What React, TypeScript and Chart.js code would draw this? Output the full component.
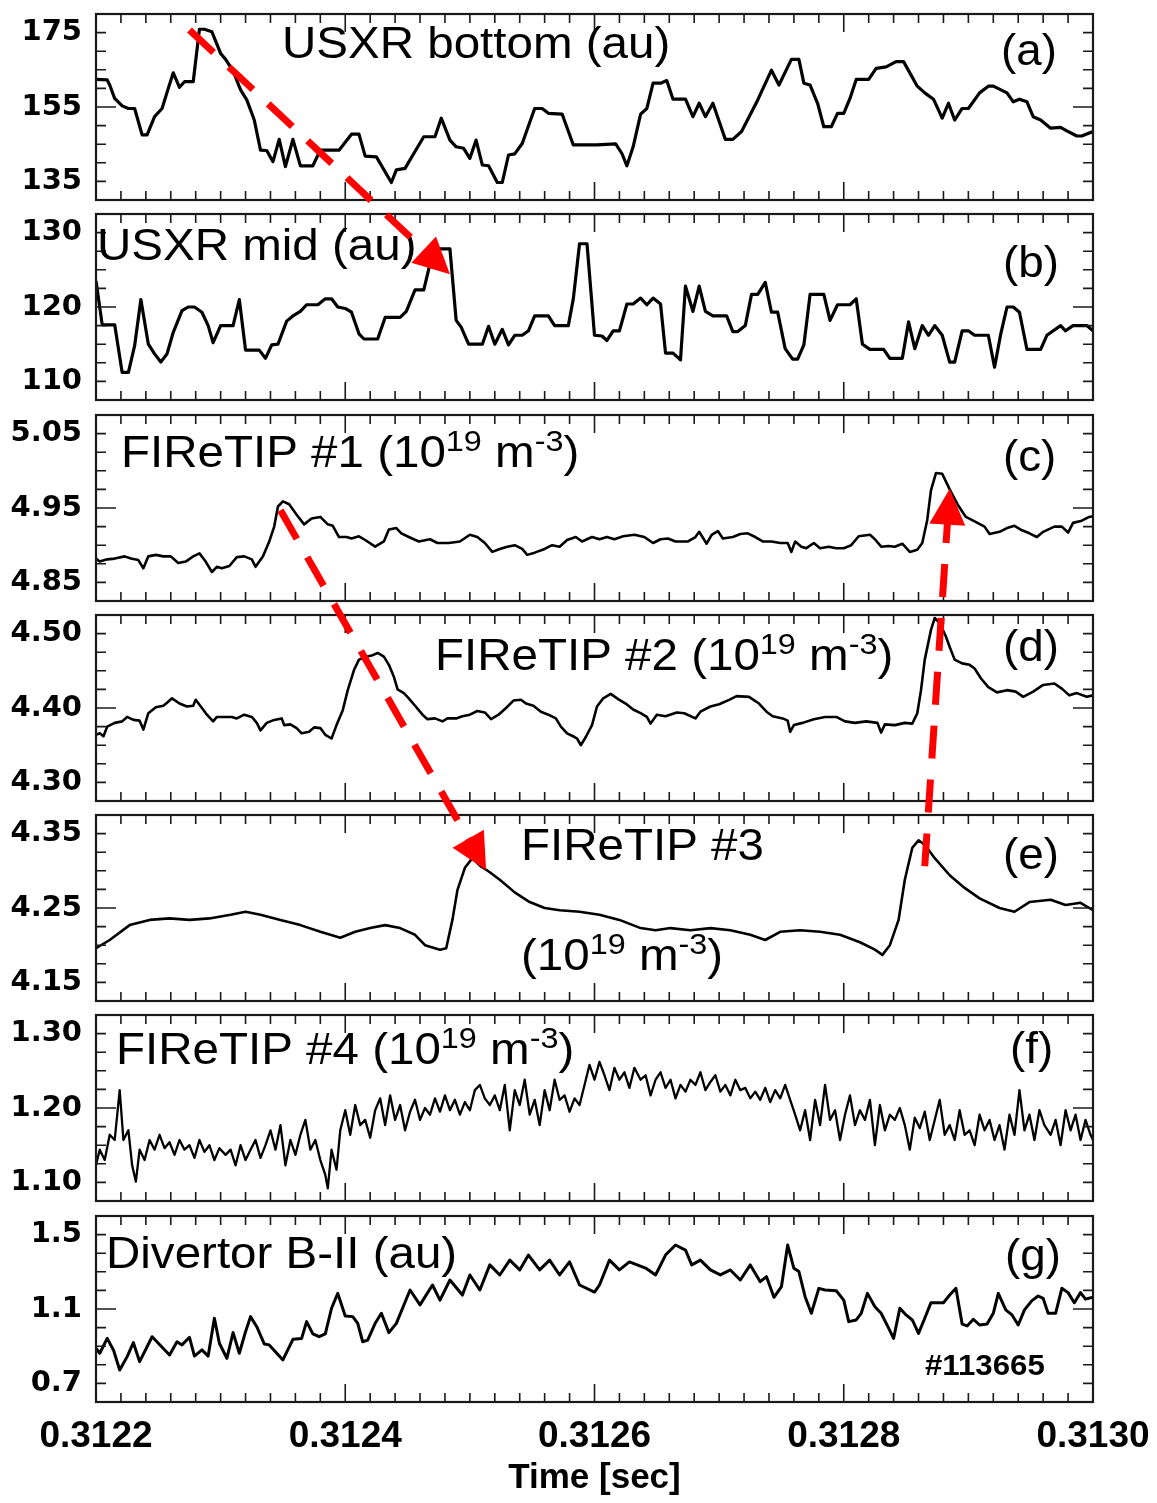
import React, { useEffect, useRef } from 'react';
import { Chart, registerables } from 'chart.js';

Chart.register(...registerables);

// ---------------- data: time in microseconds after 0.3122 s ----------------
const USXR_BOTTOM: [number, number][] = [
  [0,162.4],[9,162.3],[11,160.9],[15,157.3],[21,155.3],[26,154.6],[31,154.6],[37,147.5],[41,147.5],[47,152.4],
  [53,154.6],[58,160.0],[62,164.2],[67,160.3],[71,161.8],[78,161.8],[83,175.9],[87,175.9],[93,175.2],[100,169.4],
  [104,167.8],[110,164.7],[116,159.6],[121,156.9],[127,151.5],[132,143.4],[137,143.3],[142,140.3],[147,146.3],[152,139.0],
  [158,146.3],[164,139.2],[174,139.2],[180,143.4],[195,143.4],[205,147.7],[211,147.7],[216,141.8],[225,141.6],[237,134.7],
  [241,138.1],[248,138.5],[255,142.5],[263,147.0],[272,147.0],[277,152.0],[284,146.1],[289,144.3],[295,143.9],[300,141.2],
  [305,146.1],[310,139.4],[315,139.2],[322,134.7],[326,134.7],[331,142.1],[336,142.4],[342,145.2],[352,154.6],[358,154.6],
  [363,153.3],[374,153.1],[383,144.8],[402,144.8],[417,145.1],[422,142.5],[426,139.2],[431,144.3],[437,153.1],[442,154.6],
  [447,161.4],[453,161.4],[458,162.1],[463,157.1],[473,157.1],[479,152.4],[484,156.0],[489,152.4],[495,156.0],[505,146.3],
  [511,146.3],[518,148.4],[531,156.9],[542,164.9],[548,160.9],[558,167.8],[564,167.8],[568,161.4],[573,160.9],[579,156.0],
  [584,149.7],[590,149.7],[595,153.3],[600,153.3],[605,157.3],[610,162.4],[620,162.4],[626,165.4],[634,165.8],[642,167.2],
  [648,167.2],[659,160.6],[665,158.8],[672,157.1],[679,152.0],[684,156.0],[689,151.5],[695,154.6],[700,154.6],[709,158.8],
  [716,160.6],[720,160.6],[731,158.8],[736,156.4],[741,157.1],[747,156.4],[752,152.4],[758,151.5],[766,149.3],[774,149.5],
  [779,148.6],[787,147.2],[791,147.2],[800,148.4],
];

const USXR_MID: [number, number][] = [
  [0,123.5],[5,117.6],[15,117.6],[21,111.2],[26,111.2],[31,114.8],[36,121.0],[42,115.0],[47,113.7],[52,112.6],
  [57,113.7],[62,116.6],[69,119.5],[74,120.0],[79,120.0],[85,119.3],[90,117.5],[94,115.2],[100,117.5],[110,117.5],
  [115,121.0],[120,114.2],[131,114.2],[136,113.1],[141,114.9],[146,115.0],[153,118.1],[158,118.8],[164,119.4],[169,120.3],
  [178,120.3],[184,121.1],[189,121.1],[194,120.0],[200,119.8],[205,119.3],[211,116.4],[215,115.7],[226,115.7],[232,118.6],
  [244,118.6],[249,119.4],[256,122.3],[263,122.3],[267,125.1],[271,127.8],[284,127.8],[289,118.2],[293,117.3],[299,115.0],
  [310,115.0],[315,117.4],[320,115.0],[326,117.0],[331,114.9],[336,116.2],[342,116.2],[347,116.8],[352,118.8],[363,118.8],
  [368,117.5],[379,117.5],[383,121.1],[388,128.5],[394,128.5],[400,116.2],[406,116.1],[410,115.5],[415,116.8],[420,116.8],
  [426,120.4],[431,120.4],[437,121.2],[442,120.3],[447,121.2],[453,120.4],[457,113.8],[463,113.8],[469,112.9],[473,122.8],
  [479,119.4],[484,122.8],[489,119.4],[495,118.8],[506,118.8],[511,116.7],[515,116.7],[521,117.5],[526,121.7],[531,121.7],
  [537,123.3],[542,119.3],[547,119.3],[553,114.4],[559,113.0],[563,113.0],[568,114.9],[573,121.7],[584,121.7],[589,118.2],
  [595,120.3],[605,120.3],[610,121.1],[615,115.0],[621,114.3],[632,114.3],[637,113.1],[647,113.1],[652,118.0],[657,114.4],
  [663,117.5],[668,116.2],[673,117.5],[679,116.2],[685,112.6],[689,112.6],[695,116.8],[700,116.8],[705,116.2],[716,116.2],
  [721,111.9],[726,116.4],[731,120.0],[736,120.0],[741,119.3],[747,114.3],[758,114.3],[763,116.2],[774,117.5],[778,116.8],
  [784,117.5],[795,117.5],[800,116.8],
];

const FIRETIP_1: [number, number][] = [
  [0,4.882],[3,4.878],[9,4.881],[15,4.882],[23,4.885],[28,4.882],[34,4.880],[38,4.869],[42,4.885],[48,4.887],
  [54,4.885],[60,4.885],[66,4.876],[72,4.878],[78,4.885],[83,4.889],[88,4.878],[93,4.864],[97,4.871],[101,4.869],
  [107,4.872],[113,4.884],[119,4.885],[125,4.881],[128,4.871],[134,4.885],[139,4.905],[143,4.925],[146,4.952],[150,4.959],
  [155,4.955],[161,4.941],[167,4.928],[173,4.936],[180,4.938],[186,4.928],[190,4.926],[195,4.911],[201,4.911],[205,4.909],
  [211,4.912],[216,4.907],[224,4.898],[231,4.905],[235,4.921],[241,4.923],[245,4.916],[251,4.911],[259,4.905],[268,4.908],
  [274,4.903],[283,4.903],[292,4.905],[300,4.914],[306,4.911],[312,4.903],[318,4.891],[324,4.895],[330,4.898],[336,4.900],
  [342,4.895],[346,4.887],[352,4.890],[360,4.895],[366,4.900],[372,4.898],[378,4.907],[385,4.911],[390,4.905],[398,4.911],
  [404,4.908],[410,4.911],[416,4.908],[423,4.912],[432,4.914],[440,4.911],[447,4.903],[453,4.908],[459,4.909],[465,4.905],
  [475,4.905],[481,4.911],[484,4.918],[490,4.902],[494,4.914],[499,4.919],[503,4.909],[511,4.911],[517,4.915],[523,4.916],
  [529,4.911],[535,4.905],[542,4.905],[549,4.903],[555,4.903],[558,4.891],[561,4.905],[566,4.898],[570,4.896],[576,4.903],
  [581,4.896],[588,4.898],[594,4.896],[600,4.896],[606,4.900],[612,4.912],[621,4.914],[625,4.908],[630,4.898],[636,4.899],
  [641,4.898],[647,4.902],[653,4.891],[659,4.894],[663,4.903],[667,4.934],[670,4.974],[674,4.997],[679,4.996],[685,4.975],
  [692,4.953],[698,4.938],[705,4.932],[713,4.925],[717,4.915],[725,4.918],[731,4.923],[737,4.926],[743,4.920],[749,4.916],
  [755,4.911],[760,4.918],[769,4.925],[775,4.925],[780,4.917],[784,4.930],[791,4.933],[797,4.938],[800,4.939],
];

const FIRETIP_2: [number, number][] = [
  [0,4.364],[3,4.366],[6,4.362],[9,4.375],[15,4.380],[21,4.382],[25,4.388],[30,4.384],[35,4.383],[38,4.371],
  [42,4.393],[48,4.401],[54,4.403],[57,4.407],[61,4.413],[67,4.406],[73,4.402],[78,4.403],[80,4.411],[85,4.400],
  [89,4.391],[94,4.382],[97,4.388],[103,4.388],[109,4.388],[113,4.386],[119,4.391],[125,4.388],[129,4.380],[132,4.370],
  [137,4.380],[143,4.384],[149,4.386],[151,4.377],[156,4.378],[161,4.373],[165,4.366],[171,4.368],[175,4.374],[180,4.373],
  [184,4.364],[189,4.359],[193,4.377],[198,4.397],[202,4.424],[207,4.451],[211,4.465],[217,4.469],[222,4.471],[226,4.474],
  [231,4.469],[235,4.458],[239,4.442],[242,4.425],[247,4.420],[251,4.413],[256,4.403],[262,4.391],[266,4.385],[272,4.386],
  [278,4.382],[282,4.386],[289,4.386],[294,4.389],[300,4.391],[306,4.396],[312,4.394],[317,4.385],[323,4.391],[329,4.400],
  [335,4.410],[341,4.411],[345,4.406],[351,4.403],[357,4.395],[363,4.391],[369,4.386],[373,4.375],[378,4.366],[384,4.361],
  [386,4.359],[389,4.350],[393,4.361],[398,4.377],[402,4.402],[407,4.413],[413,4.419],[419,4.412],[425,4.406],[431,4.398],
  [437,4.393],[442,4.388],[445,4.379],[450,4.391],[457,4.389],[466,4.394],[472,4.393],[481,4.386],[485,4.395],[493,4.402],
  [500,4.405],[508,4.411],[514,4.416],[524,4.415],[532,4.406],[538,4.395],[543,4.389],[551,4.386],[555,4.383],[557,4.368],
  [560,4.377],[567,4.380],[576,4.385],[585,4.388],[594,4.388],[601,4.382],[609,4.380],[618,4.382],[627,4.380],[630,4.367],
  [633,4.378],[641,4.377],[649,4.380],[655,4.379],[659,4.393],[662,4.424],[665,4.465],[670,4.505],[673,4.521],[677,4.514],
  [682,4.496],[685,4.482],[689,4.465],[695,4.460],[701,4.458],[705,4.453],[710,4.440],[716,4.428],[723,4.421],[731,4.424],
  [738,4.422],[744,4.415],[752,4.422],[760,4.431],[769,4.433],[775,4.426],[781,4.417],[787,4.420],[795,4.415],[800,4.417],
];

const FIRETIP_3: [number, number][] = [
  [0,4.196],[11,4.207],[27,4.227],[43,4.234],[59,4.236],[75,4.234],[91,4.236],[108,4.241],[120,4.245],[132,4.241],
  [148,4.234],[164,4.227],[180,4.218],[196,4.210],[208,4.218],[220,4.223],[232,4.227],[244,4.223],[256,4.214],[264,4.200],
  [276,4.194],[281,4.196],[286,4.234],[290,4.274],[296,4.304],[302,4.317],[308,4.307],[316,4.298],[324,4.288],[336,4.271],
  [348,4.258],[360,4.250],[372,4.247],[388,4.245],[404,4.241],[420,4.234],[437,4.223],[449,4.220],[461,4.223],[477,4.220],
  [493,4.223],[509,4.220],[525,4.214],[537,4.207],[549,4.218],[565,4.220],[581,4.218],[597,4.214],[613,4.204],[625,4.194],
  [631,4.187],[637,4.200],[644,4.234],[649,4.288],[655,4.331],[660,4.341],[665,4.335],[673,4.317],[685,4.294],[697,4.277],
  [709,4.263],[725,4.250],[737,4.245],[749,4.258],[766,4.261],[778,4.254],[790,4.257],[800,4.247],
];

const FIRETIP_4: [number, number][] = [
  [0,1.123],[3,1.144],[7,1.130],[11,1.164],[15,1.157],[19,1.224],[22,1.157],[26,1.170],[29,1.123],[32,1.101],
  [35,1.144],[39,1.130],[43,1.157],[47,1.144],[51,1.164],[55,1.146],[59,1.154],[63,1.137],[67,1.157],[71,1.144],
  [75,1.150],[79,1.133],[83,1.157],[87,1.141],[91,1.150],[95,1.130],[99,1.146],[104,1.137],[108,1.144],[112,1.123],
  [116,1.150],[120,1.130],[124,1.144],[128,1.157],[132,1.133],[136,1.150],[140,1.170],[144,1.144],[148,1.177],[152,1.123],
  [156,1.157],[160,1.137],[164,1.164],[168,1.184],[172,1.144],[176,1.157],[180,1.130],[184,1.110],[186,1.092],[189,1.144],
  [193,1.117],[196,1.170],[200,1.197],[204,1.164],[208,1.204],[212,1.177],[216,1.184],[220,1.160],[224,1.197],[228,1.213],
  [232,1.177],[236,1.217],[240,1.184],[244,1.204],[248,1.170],[252,1.195],[256,1.211],[260,1.184],[264,1.200],[268,1.191],
  [272,1.213],[276,1.195],[280,1.217],[284,1.197],[288,1.211],[292,1.191],[296,1.208],[300,1.197],[304,1.224],[308,1.231],
  [312,1.213],[316,1.204],[320,1.217],[324,1.197],[328,1.231],[332,1.170],[336,1.224],[340,1.204],[344,1.238],[348,1.191],
  [352,1.211],[356,1.177],[360,1.224],[364,1.197],[368,1.238],[372,1.211],[376,1.217],[380,1.195],[384,1.213],[388,1.204],
  [392,1.231],[396,1.258],[400,1.238],[404,1.262],[408,1.244],[412,1.224],[416,1.254],[420,1.238],[424,1.248],[428,1.227],
  [432,1.254],[437,1.238],[441,1.244],[445,1.217],[449,1.238],[453,1.248],[457,1.227],[461,1.238],[465,1.213],[469,1.231],
  [473,1.222],[477,1.238],[481,1.231],[485,1.248],[489,1.224],[493,1.235],[497,1.244],[501,1.222],[505,1.231],[509,1.217],
  [513,1.238],[517,1.224],[521,1.227],[525,1.213],[529,1.222],[533,1.211],[537,1.227],[541,1.208],[545,1.224],[549,1.213],
  [553,1.231],[557,1.211],[561,1.191],[565,1.170],[569,1.197],[573,1.157],[577,1.211],[581,1.177],[585,1.231],[589,1.184],
  [593,1.197],[597,1.157],[601,1.191],[605,1.217],[609,1.177],[613,1.197],[617,1.184],[621,1.211],[625,1.150],[629,1.204],
  [633,1.170],[637,1.191],[641,1.184],[645,1.200],[649,1.177],[653,1.144],[657,1.187],[661,1.173],[665,1.195],[669,1.157],
  [673,1.184],[677,1.211],[681,1.164],[685,1.177],[689,1.157],[693,1.197],[697,1.164],[701,1.170],[705,1.150],[709,1.191],
  [713,1.170],[717,1.184],[721,1.157],[725,1.177],[729,1.144],[733,1.191],[737,1.164],[741,1.224],[745,1.170],[749,1.191],
  [753,1.157],[757,1.197],[761,1.177],[766,1.164],[770,1.184],[774,1.150],[778,1.197],[782,1.170],[786,1.191],[790,1.157],
  [794,1.184],[798,1.164],[800,1.157],
];

const DIVERTOR: [number, number][] = [
  [0,0.889],[3,0.862],[9,0.942],[14,0.880],[19,0.772],[25,0.844],[30,0.919],[35,0.817],[45,0.951],[59,0.853],
  [65,0.924],[69,0.907],[75,0.948],[79,0.847],[85,0.880],[90,0.847],[95,1.050],[99,0.916],[105,0.835],[110,0.973],
  [115,0.862],[120,0.978],[124,1.059],[129,1.005],[135,0.912],[139,0.907],[150,0.826],[158,0.937],[165,0.942],[169,1.032],
  [174,0.966],[179,0.951],[184,0.966],[189,1.104],[194,1.184],[200,1.062],[206,1.059],[210,1.023],[214,0.924],[218,0.933],
  [224,1.023],[229,1.077],[235,0.973],[241,1.023],[252,1.202],[260,1.122],[270,1.229],[276,1.148],[284,1.256],[294,1.175],
  [300,1.283],[308,1.202],[316,1.337],[324,1.283],[332,1.363],[340,1.310],[347,1.390],[356,1.310],[364,1.363],[372,1.283],
  [380,1.353],[388,1.229],[400,1.191],[404,1.229],[412,1.363],[420,1.310],[428,1.353],[441,1.320],[449,1.283],[457,1.390],
  [465,1.444],[473,1.417],[478,1.337],[485,1.363],[493,1.310],[501,1.283],[509,1.310],[517,1.256],[525,1.337],[533,1.247],
  [538,1.274],[544,1.163],[550,1.220],[555,1.444],[560,1.319],[564,1.301],[569,1.166],[574,1.077],[580,1.211],[585,1.202],
  [594,1.198],[600,1.148],[604,1.032],[610,1.041],[614,1.077],[619,1.184],[625,1.112],[630,1.077],[636,0.997],[640,0.942],
  [645,1.104],[650,1.068],[655,1.041],[660,0.969],[665,1.050],[670,1.134],[680,1.134],[685,1.175],[690,1.211],[695,1.019],
  [699,1.009],[704,1.045],[709,1.014],[715,1.019],[720,1.077],[724,1.184],[730,1.095],[735,1.068],[740,1.014],[745,1.095],
  [751,1.145],[756,1.170],[760,1.157],[764,1.077],[770,1.077],[775,1.211],[780,1.188],[785,1.134],[790,1.188],[794,1.153],
  [800,1.163],
];

// ---------------- axes ----------------
const X_MIN_US = 0;
const X_MAX_US = 800;
const X_TICKS_US = [0, 200, 400, 600, 800];
const X_TICK_LABELS = ['0.3122', '0.3124', '0.3126', '0.3128', '0.3130'];
const X_MINOR_US = 20;
const X_MAJOR_US = 200;
const X_TITLE = 'Time [sec]';

const A_RANGE = [130, 180]; const A_STEP = 5; const A_YTICKS = [135, 155, 175]; const A_YTEXT = ['135', '155', '175'];
const B_RANGE = [107.5, 132.5]; const B_STEP = 2.5; const B_YTICKS = [110, 120, 130]; const B_YTEXT = ['110', '120', '130'];
const C_RANGE = [4.825, 5.075]; const C_STEP = 0.025; const C_YTICKS = [4.85, 4.95, 5.05]; const C_YTEXT = ['4.85', '4.95', '5.05'];
const D_RANGE = [4.275, 4.525]; const D_STEP = 0.025; const D_YTICKS = [4.3, 4.4, 4.5]; const D_YTEXT = ['4.30', '4.40', '4.50'];
const E_RANGE = [4.125, 4.375]; const E_STEP = 0.025; const E_YTICKS = [4.15, 4.25, 4.35]; const E_YTEXT = ['4.15', '4.25', '4.35'];
const F_RANGE = [1.075, 1.325]; const F_STEP = 0.025; const F_YTICKS = [1.1, 1.2, 1.3]; const F_YTEXT = ['1.10', '1.20', '1.30'];
const G_RANGE = [0.6, 1.6]; const G_STEP = 0.1; const G_YTICKS = [0.7, 1.1, 1.5]; const G_YTEXT = ['0.7', '1.1', '1.5'];

// ---------------- texts ----------------
const TITLE_A = 'USXR bottom (au)';
const TITLE_B = 'USXR mid (au)';
const TITLE_C = 'FIReTIP #1 (10';
const TITLE_D = 'FIReTIP #2 (10';
const TITLE_E = 'FIReTIP #3';
const TITLE_E2 = '(10';
const TITLE_F = 'FIReTIP #4 (10';
const TITLE_G = 'Divertor B-II (au)';
const UNIT_EXP = '19';
const UNIT_M = ' m';
const UNIT_M_EXP = '-3';
const UNIT_CLOSE = ')';
const SHOT = '#113665';
const TAGS = ['(a)', '(b)', '(c)', '(d)', '(e)', '(f)', '(g)'];

// arrows: from / to given as (panel index, time in us, value in that panel)
const ARROW_1 = { from: { panel: 0, t: 75, v: 175.7 }, to: { panel: 1, t: 284, v: 124.4 } };
const ARROW_2 = { from: { panel: 2, t: 148, v: 4.947 }, to: { panel: 4, t: 313, v: 4.301 } };
const ARROW_3 = { from: { panel: 4, t: 665, v: 4.306 }, to: { panel: 2, t: 685, v: 4.976 } };
const ARROWS = [ARROW_1, ARROW_2, ARROW_3];

// ---------------- layout / style ----------------
const FONT_SANS = '"Liberation Sans", Arial, Helvetica, sans-serif';
const FONT_YTICK = '"DejaVu Sans", "Liberation Sans", sans-serif';
const W = 1157;
const H = 1503;
const PANEL_TOPS = [14, 214, 415, 615, 815, 1015, 1216];
const PANEL_H = 186;
const PAD = 6;
const Y_AXIS_W = 96;
const RIGHT_PAD = 64;
const X_AXIS_H = 97;
const TITLE_SIZE = 44;
const SUP_SIZE = 30;
const SUP_RISE = 16;
const TEXT_STRETCH = 1.08;

type Run = { text: string; sup?: boolean };
type Label = { runs: Run[]; x: number; y: number; size: number; bold?: boolean; stretch?: number };

const unitRuns = (head: string): Run[] => [
  { text: head }, { text: UNIT_EXP, sup: true }, { text: UNIT_M }, { text: UNIT_M_EXP, sup: true }, { text: UNIT_CLOSE },
];

const PANELS = [
  { data: USXR_BOTTOM, range: A_RANGE, step: A_STEP, yTicks: A_YTICKS, yText: A_YTEXT, lw: 3.2,
    labels: [{ runs: [{ text: TITLE_A }], x: 282, y: 44, size: TITLE_SIZE }, { runs: [{ text: TAGS[0] }], x: 1001, y: 51, size: TITLE_SIZE, stretch: 1.04 }] as Label[] },
  { data: USXR_MID, range: B_RANGE, step: B_STEP, yTicks: B_YTICKS, yText: B_YTEXT, lw: 3.2,
    labels: [{ runs: [{ text: TITLE_B }], x: 97, y: 46, size: TITLE_SIZE }, { runs: [{ text: TAGS[1] }], x: 1003, y: 63, size: TITLE_SIZE, stretch: 1.04 }] as Label[] },
  { data: FIRETIP_1, range: C_RANGE, step: C_STEP, yTicks: C_YTICKS, yText: C_YTEXT, lw: 2.6,
    labels: [{ runs: unitRuns(TITLE_C), x: 121, y: 52, size: TITLE_SIZE }, { runs: [{ text: TAGS[2] }], x: 1003, y: 56, size: TITLE_SIZE, stretch: 1.04 }] as Label[] },
  { data: FIRETIP_2, range: D_RANGE, step: D_STEP, yTicks: D_YTICKS, yText: D_YTEXT, lw: 2.6,
    labels: [{ runs: unitRuns(TITLE_D), x: 435, y: 55, size: TITLE_SIZE }, { runs: [{ text: TAGS[3] }], x: 1003, y: 46, size: TITLE_SIZE, stretch: 1.04 }] as Label[] },
  { data: FIRETIP_3, range: E_RANGE, step: E_STEP, yTicks: E_YTICKS, yText: E_YTEXT, lw: 2.6,
    labels: [{ runs: [{ text: TITLE_E }], x: 521, y: 45, size: TITLE_SIZE }, { runs: unitRuns(TITLE_E2), x: 521, y: 155, size: TITLE_SIZE }, { runs: [{ text: TAGS[4] }], x: 1003, y: 54, size: TITLE_SIZE, stretch: 1.04 }] as Label[] },
  { data: FIRETIP_4, range: F_RANGE, step: F_STEP, yTicks: F_YTICKS, yText: F_YTEXT, lw: 2.3,
    labels: [{ runs: unitRuns(TITLE_F), x: 116, y: 49, size: TITLE_SIZE }, { runs: [{ text: TAGS[5] }], x: 1010, y: 48, size: TITLE_SIZE, stretch: 1.04 }] as Label[] },
  { data: DIVERTOR, range: G_RANGE, step: G_STEP, yTicks: G_YTICKS, yText: G_YTEXT, lw: 3.0,
    labels: [{ runs: [{ text: TITLE_G }], x: 106, y: 52, size: TITLE_SIZE }, { runs: [{ text: TAGS[6] }], x: 1005, y: 54, size: TITLE_SIZE, stretch: 1.04 }, { runs: [{ text: SHOT }], x: 925, y: 159, size: 30, bold: true, stretch: 1.04 }] as Label[] },
];

function drawRuns(ctx: CanvasRenderingContext2D, lb: Label, x: number, y: number) {
  ctx.save();
  ctx.translate(x, y);
  ctx.scale(lb.stretch ?? TEXT_STRETCH, 1);
  let cx = 0;
  for (const r of lb.runs) {
    const size = r.sup ? SUP_SIZE : lb.size;
    ctx.font = `${lb.bold ? 'bold ' : ''}${size}px ${FONT_SANS}`;
    ctx.fillText(r.text, cx, r.sup ? -SUP_RISE : 0);
    cx += ctx.measureText(r.text).width;
  }
  ctx.restore();
}

function decorPlugin(p: typeof PANELS[number]) {
  return {
    id: 'decor',
    afterDatasetsDraw(chart: any) {
      const { ctx, chartArea } = chart;
      const { left, right, top, bottom } = chartArea;
      const xs = chart.scales.x;
      const ys = chart.scales.y;
      ctx.save();
      ctx.strokeStyle = '#1a1a1a';
      ctx.lineWidth = 1.6;
      ctx.beginPath();
      for (let t = X_MIN_US + X_MINOR_US; t < X_MAX_US; t += X_MINOR_US) {
        const px = xs.getPixelForValue(t);
        const L = t % X_MAJOR_US === 0 ? 18 : 9;
        ctx.moveTo(px, top); ctx.lineTo(px, top + L);
        ctx.moveTo(px, bottom); ctx.lineTo(px, bottom - L);
      }
      const lo = p.range[0];
      const n = Math.round((p.range[1] - p.range[0]) / p.step);
      for (let k = 1; k < n; k++) {
        const val = lo + k * p.step;
        const py = ys.getPixelForValue(val);
        const L = Math.abs(val - p.yTicks[1]) < p.step / 10 ? 20 : 10;
        ctx.moveTo(left, py); ctx.lineTo(left + L, py);
        ctx.moveTo(right, py); ctx.lineTo(right - L, py);
      }
      ctx.stroke();
      ctx.lineWidth = 2.2;
      ctx.strokeRect(left, top, right - left, bottom - top);
      ctx.fillStyle = '#000';
      ctx.textAlign = 'left';
      ctx.textBaseline = 'alphabetic';
      for (const lb of p.labels) drawRuns(ctx, lb, lb.x, top + lb.y);
      ctx.restore();
    },
  };
}

function drawArrow(ctx: CanvasRenderingContext2D, x1: number, y1: number, x2: number, y2: number) {
  const dx = x2 - x1, dy = y2 - y1;
  const len = Math.hypot(dx, dy);
  const ux = dx / len, uy = dy / len;
  const HL = 36, HW = 36;
  const bx = x2 - ux * HL, by = y2 - uy * HL;
  ctx.save();
  ctx.strokeStyle = '#ff0000';
  ctx.fillStyle = '#ff0000';
  ctx.lineWidth = 7;
  ctx.lineCap = 'butt';
  ctx.setLineDash([33, 21]);
  ctx.beginPath();
  ctx.moveTo(x1, y1);
  ctx.lineTo(bx + ux * 2, by + uy * 2);
  ctx.stroke();
  ctx.setLineDash([]);
  ctx.beginPath();
  ctx.moveTo(x2, y2);
  ctx.lineTo(bx - uy * HW / 2, by + ux * HW / 2);
  ctx.lineTo(bx + uy * HW / 2, by - ux * HW / 2);
  ctx.closePath();
  ctx.fill();
  ctx.restore();
}

const canvasTop = (i: number) => PANEL_TOPS[i] - PAD;
const canvasHeight = (i: number) => (i === PANELS.length - 1 ? PAD + PANEL_H + X_AXIS_H : PAD * 2 + PANEL_H);

export default function App() {
  const refs = useRef<(HTMLCanvasElement | null)[]>([]);
  const overlay = useRef<HTMLCanvasElement | null>(null);

  useEffect(() => {
    const charts: Chart[] = [];
    PANELS.forEach((p, i) => {
      const cv = refs.current[i];
      if (!cv) return;
      const isLast = i === PANELS.length - 1;
      const chart = new Chart(cv, {
        type: 'line',
        data: {
          datasets: [{
            data: p.data.map(([x, y]) => ({ x, y })),
            borderColor: '#000',
            borderWidth: p.lw,
            pointRadius: 0,
            tension: 0,
            fill: false,
            borderJoinStyle: 'round',
          }],
        },
        options: {
          animation: false,
          responsive: false,
          maintainAspectRatio: false,
          events: [],
          layout: { padding: { top: PAD, bottom: isLast ? 0 : PAD, left: 0, right: RIGHT_PAD } },
          plugins: { legend: { display: false }, tooltip: { enabled: false }, title: { display: false } },
          scales: {
            x: {
              type: 'linear',
              min: X_MIN_US,
              max: X_MAX_US,
              display: isLast,
              afterBuildTicks: (s: any) => { s.ticks = X_TICKS_US.map((value) => ({ value })); },
              afterFit: (s: any) => {
                s.height = isLast ? X_AXIS_H : 0;
                s.paddingLeft = 0; s.paddingRight = 0;
              },
              ticks: {
                autoSkip: false,
                maxRotation: 0,
                minRotation: 0,
                padding: 13,
                color: '#000',
                font: { family: FONT_SANS, size: 37, weight: 'bold' },
                callback: (_v: any, idx: number) => X_TICK_LABELS[idx],
              },
              grid: { display: false, drawTicks: false },
              border: { display: false },
              title: {
                display: true,
                text: X_TITLE,
                color: '#000',
                font: { family: FONT_SANS, size: 35, weight: 'bold' },
                padding: { top: 0, bottom: 0 },
              },
            },
            y: {
              type: 'linear',
              min: p.range[0],
              max: p.range[1],
              afterBuildTicks: (s: any) => { s.ticks = p.yTicks.map((value) => ({ value })); },
              afterFit: (s: any) => { s.width = Y_AXIS_W; s.paddingTop = 0; s.paddingBottom = 0; },
              ticks: {
                autoSkip: false,
                padding: 14,
                color: '#000',
                font: { family: FONT_YTICK, size: 29, weight: 'bold' },
                callback: (_v: any, idx: number) => p.yText[idx],
              },
              grid: { display: false, drawTicks: false },
              border: { display: false },
            },
          },
        } as any,
        plugins: [decorPlugin(p)],
      });
      charts[i] = chart;
    });

    const ov = overlay.current;
    if (ov && charts.length === PANELS.length) {
      const ctx = ov.getContext('2d')!;
      ctx.clearRect(0, 0, W, H);
      const toPx = (r: { panel: number; t: number; v: number }) => {
        const ch: any = charts[r.panel];
        return [ch.scales.x.getPixelForValue(r.t), canvasTop(r.panel) + ch.scales.y.getPixelForValue(r.v)];
      };
      for (const a of ARROWS) {
        const [x1, y1] = toPx(a.from);
        const [x2, y2] = toPx(a.to);
        drawArrow(ctx, x1, y1, x2, y2);
      }
    }
    return () => { charts.forEach((c) => c && c.destroy()); };
  }, []);

  return (
    <div style={{ position: 'absolute', left: 0, top: 0, width: W, height: H, overflow: 'hidden', background: '#fff' }}>
      {PANELS.map((_, i) => (
        <canvas
          key={i}
          ref={(el) => { refs.current[i] = el; }}
          width={W}
          height={canvasHeight(i)}
          style={{ position: 'absolute', left: 0, top: canvasTop(i), width: W, height: canvasHeight(i) }}
        />
      ))}
      <canvas
        ref={overlay}
        width={W}
        height={H}
        style={{ position: 'absolute', left: 0, top: 0, width: W, height: H, pointerEvents: 'none' }}
      />
    </div>
  );
}
